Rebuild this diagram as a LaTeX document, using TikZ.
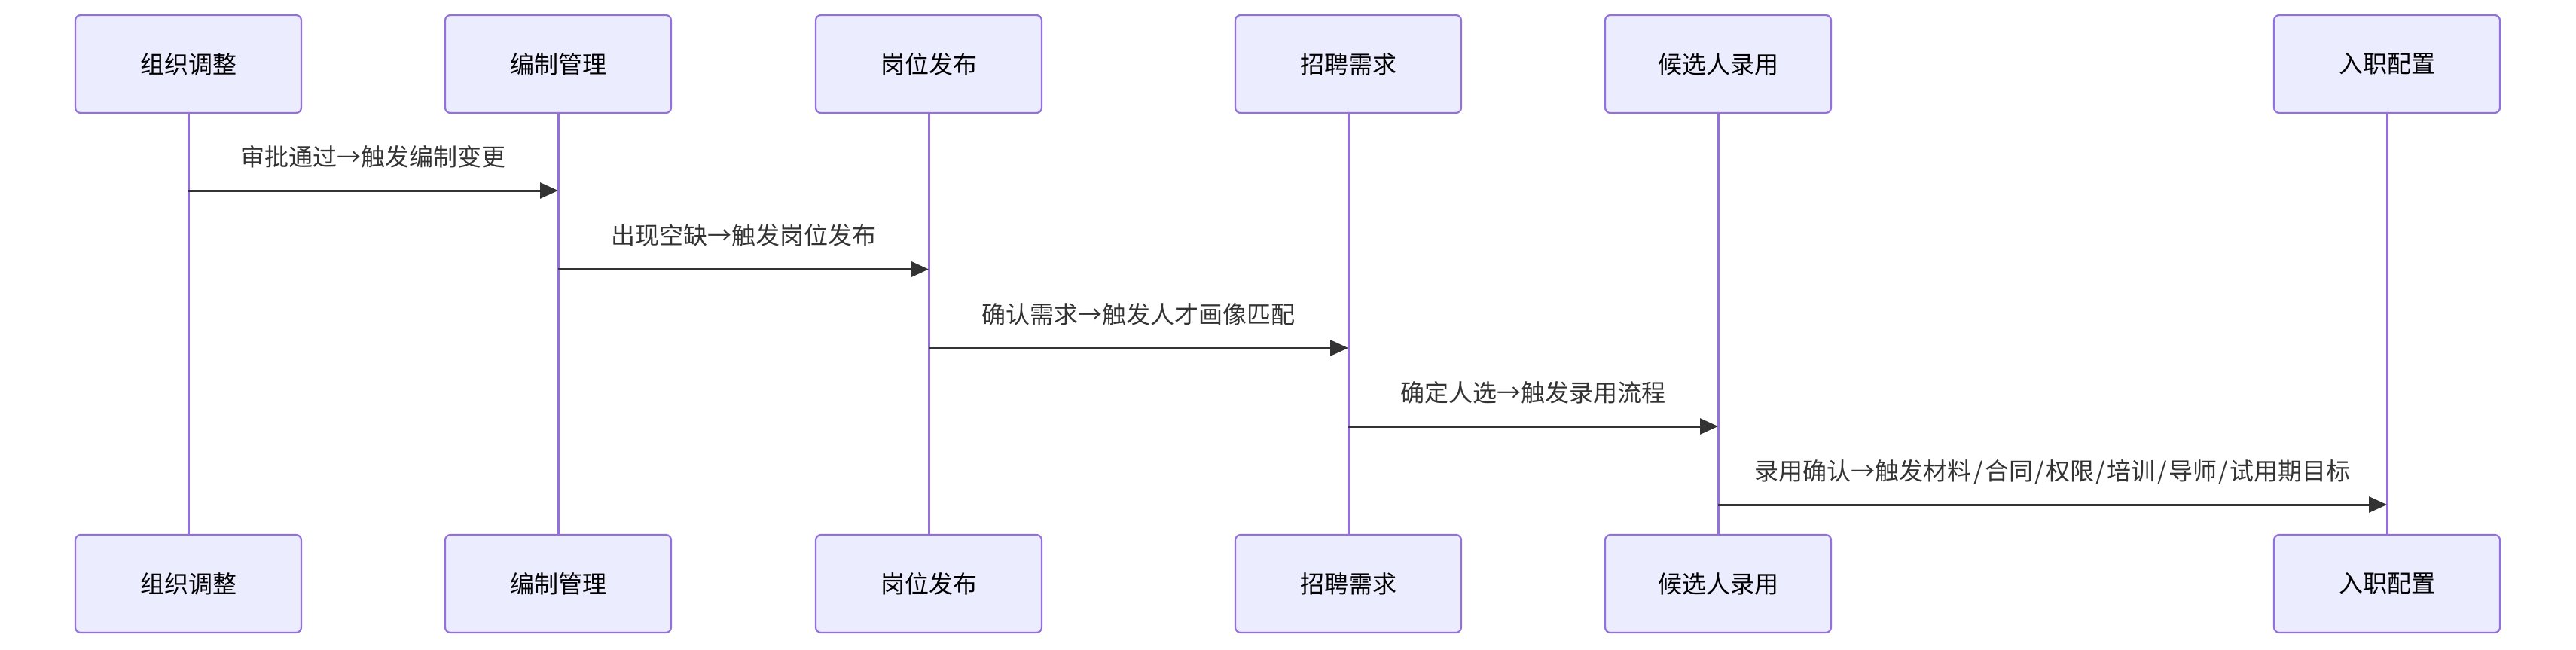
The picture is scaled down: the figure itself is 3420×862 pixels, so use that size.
\documentclass[tikz,border=0pt]{standalone}
\usepackage{fontspec}
\setmainfont{Noto Sans CJK SC}
\usetikzlibrary{arrows.meta}
\definecolor{actorfill}{HTML}{ECECFF}
\definecolor{actorline}{HTML}{9370DB}
\definecolor{msgcol}{HTML}{333333}
\newcommand{\myslash}{\kern2.4pt/\kern2.4pt}
\begin{document}
\begin{tikzpicture}[x=1pt,y=-1pt,
  actor/.style={draw=actorline, fill=actorfill, line width=2.2pt, rounded corners=7pt,
    minimum width=300pt, minimum height=130pt, inner sep=0pt,
    font=\fontsize{32}{38}\selectfont, text=black},
  life/.style={draw=actorline, line width=3pt},
  msg/.style={draw=msgcol, line width=3pt, -{Triangle[length=24pt,width=21pt]}},
  lbl/.style={font=\fontsize{32}{38}\selectfont, text=msgcol, anchor=base, inner sep=0pt, yshift=33pt}]
\useasboundingbox (0,0) rectangle (3420,862);
% top actors
\node[actor] (t1) at (250,85) {组织调整};
\node[actor] (t2) at (741,85) {编制管理};
\node[actor] (t3) at (1233,85) {岗位发布};
\node[actor] (t4) at (1790,85) {招聘需求};
\node[actor] (t5) at (2281,85) {候选人录用};
\node[actor] (t6) at (3169,85) {入职配置};
% bottom actors
\node[actor] (b1) at (250,775) {组织调整};
\node[actor] (b2) at (741,775) {编制管理};
\node[actor] (b3) at (1233,775) {岗位发布};
\node[actor] (b4) at (1790,775) {招聘需求};
\node[actor] (b5) at (2281,775) {候选人录用};
\node[actor] (b6) at (3169,775) {入职配置};
% lifelines
\foreach \i in {1,...,6} { \draw[life] (t\i.south) -- (b\i.north); }
% message rows
\coordinate (y1) at (0,253);
\coordinate (y2) at (0,357.5);
\coordinate (y3) at (0,462);
\coordinate (y4) at (0,566);
\coordinate (y5) at (0,670);
\draw[msg] (t1 |- y1) -- node[lbl] {审批通过→触发编制变更} (t2 |- y1);
\draw[msg] (t2 |- y2) -- node[lbl] {出现空缺→触发岗位发布} (t3 |- y2);
\draw[msg] (t3 |- y3) -- node[lbl] {确认需求→触发人才画像匹配} (t4 |- y3);
\draw[msg] (t4 |- y4) -- node[lbl] {确定人选→触发录用流程} (t5 |- y4);
\draw[msg] (t5 |- y5) -- node[lbl] {录用确认→触发材料\myslash 合同\myslash 权限\myslash 培训\myslash 导师\myslash 试用期目标} (t6 |- y5);
\end{tikzpicture}
\end{document}
